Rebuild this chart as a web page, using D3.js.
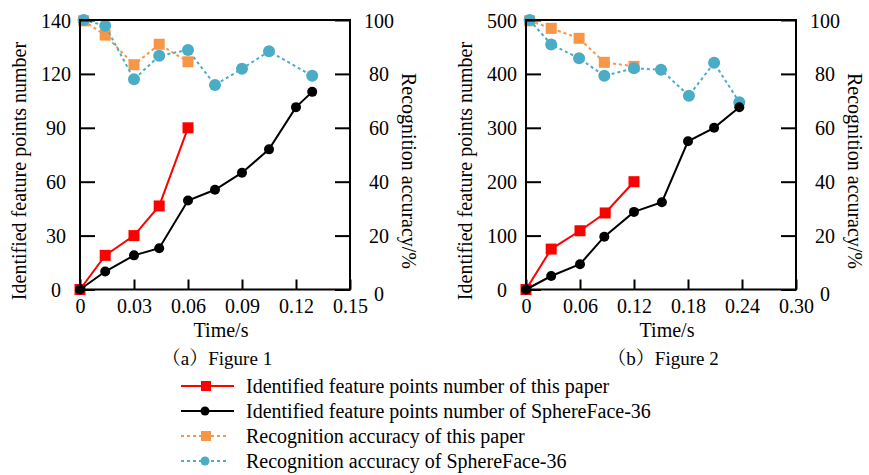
<!DOCTYPE html>
<html>
<head>
<meta charset="utf-8">
<script src="https://cdn.jsdelivr.net/npm/d3@7"></script>
<style>
  body { margin: 0; background: #fff; }
</style>
</head>
<body>
<div id="chart"></div>
<script>
// DATA - panel (a)
var timeOwnA = [0, 0.014, 0.03, 0.044, 0.06];
var countOwnA = [0, 19, 30, 46.5, 90];
var timeSphereA = [0, 0.014, 0.03, 0.044, 0.06, 0.075, 0.09, 0.105, 0.12, 0.129];
var countSphereA = [0, 10, 19, 23, 49.5, 55.5, 65, 78, 101.5, 110];
var accTimeOwnA = [0.002, 0.014, 0.03, 0.044, 0.06];
var accOwnA = [99.7, 94.4, 83.4, 91, 84.5];
var accTimeSphereA = [0.002, 0.014, 0.03, 0.044, 0.06, 0.075, 0.09, 0.105, 0.129];
var accSphereA = [100, 97.9, 78, 86.7, 88.9, 75.9, 81.9, 88.4, 79.3];

// DATA - panel (b)
var timeOwnB = [0, 0.028, 0.06, 0.088, 0.12];
var countOwnB = [0, 75, 109, 142, 200];
var timeSphereB = [0, 0.028, 0.06, 0.087, 0.12, 0.151, 0.18, 0.209, 0.237];
var countSphereB = [0, 25, 47, 98, 144, 162, 275, 300, 338];
var accTimeOwnB = [0.004, 0.028, 0.059, 0.087, 0.12];
var accOwnB = [99.7, 96.9, 93.2, 84.3, 82.8];
var accTimeSphereB = [0.004, 0.028, 0.059, 0.087, 0.12, 0.15, 0.181, 0.209, 0.237];
var accSphereB = [100, 90.9, 85.8, 79.3, 82.1, 81.5, 71.9, 84.1, 69.5];

// TICKS (panel (a) tops out at 150 but the original labels it 140)
var xTicksA = [0, 0.03, 0.06, 0.09, 0.12, 0.15];
var xLabelsA = ["0", "0.03", "0.06", "0.09", "0.12", "0.15"];
var yTicksA = [0, 30, 60, 90, 120, 150];
var yLabelsA = ["0", "30", "60", "90", "120", "140"];
var xTicksB = [0, 0.06, 0.12, 0.18, 0.24, 0.30];
var xLabelsB = ["0", "0.06", "0.12", "0.18", "0.24", "0.30"];
var yTicksB = [0, 100, 200, 300, 400, 500];
var yLabelsB = ["0", "100", "200", "300", "400", "500"];
var accTicks = [0, 20, 40, 60, 80, 100];

var legendLabels = [
  "Identified feature points number of this paper",
  "Identified feature points number of SphereFace-36",
  "Recognition accuracy of this paper",
  "Recognition accuracy of SphereFace-36"
];

var RED = "#ff0000", BLACK = "#000000", ORANGE = "#f79646", BLUE = "#4bacc6";
var FONT = "'Liberation Serif', 'Times New Roman', 'Noto Serif CJK SC', serif";

var svg = d3.select("#chart").append("svg")
  .attr("width", 869)
  .attr("height", 475);

function label(g, txt, size) {
  return g.append("text").style("font-family", FONT).style("font-size", size + "px")
    .attr("fill", "#000").text(txt);
}

function drawPanel(opt) {
  var left = opt.left, right = opt.left + 270, top = 20, bottom = 289.5;
  var x = d3.scaleLinear().domain(opt.xDomain).range([left, right]);
  var y = d3.scaleLinear().domain(opt.yDomain).range([bottom, top]);
  var yAcc = d3.scaleLinear().domain([0, 100]).range([bottom, top]);
  var g = svg.append("g");

  // series: accuracy first, counts on top
  function series(xs, ys, yScale, color, dashed, marker, r) {
    var pts = xs.map(function (d, i) { return [x(d), yScale(ys[i])]; });
    g.append("path")
      .attr("d", d3.line()(pts))
      .attr("fill", "none")
      .attr("stroke", color)
      .attr("stroke-width", 2)
      .attr("stroke-dasharray", dashed ? "3,3" : null);
    pts.forEach(function (p) {
      if (marker === "square") {
        g.append("rect").attr("x", p[0] - r).attr("y", p[1] - r)
          .attr("width", 2 * r).attr("height", 2 * r).attr("fill", color);
      } else {
        g.append("circle").attr("cx", p[0]).attr("cy", p[1]).attr("r", r).attr("fill", color);
      }
    });
  }
  series(opt.accTimeOwn, opt.accOwn, yAcc, ORANGE, true, "square", 5.5);
  series(opt.accTimeSphere, opt.accSphere, yAcc, BLUE, true, "circle", 6);
  series(opt.timeOwn, opt.countOwn, y, RED, false, "square", 5.5);
  series(opt.timeSphere, opt.countSphere, y, BLACK, false, "circle", 5);

  // axes
  var ax = g.append("g").attr("transform", "translate(0," + bottom + ")")
    .call(d3.axisBottom(x).tickValues(opt.xTicks).tickSizeInner(-10).tickSizeOuter(0)
      .tickFormat(function (d, i) { return opt.xLabels[i]; }));
  var ay = g.append("g").attr("transform", "translate(" + left + ",0)")
    .call(d3.axisLeft(y).tickValues(opt.yTicks).tickSizeInner(-15).tickSizeOuter(0)
      .tickFormat(function (d, i) { return opt.yLabels[i]; }));
  var ar = g.append("g").attr("transform", "translate(" + right + ",0)")
    .call(d3.axisRight(yAcc).tickValues(accTicks).tickSizeInner(-15).tickSizeOuter(0));

  [ax, ay, ar].forEach(function (a) {
    a.attr("font-family", null).attr("font-size", null);
    a.select(".domain").remove();
    a.selectAll("line").attr("stroke", "#000").attr("stroke-width", 2);
    a.selectAll("text").style("font-family", FONT).style("font-size", "20px").attr("fill", "#000");
  });
  ax.selectAll("text").attr("y", 9).attr("dy", "0.71em");
  ay.selectAll("text").attr("text-anchor", "middle").attr("x", -24).attr("dy", "0.35em");
  ar.selectAll("text").attr("text-anchor", "middle").attr("x", 29).attr("dy", "0.35em");
  ar.selectAll(".tick").filter(function (d) { return d === 0; })
    .select("text").attr("dy", "0.55em");

  g.append("rect")
    .attr("x", left).attr("y", top)
    .attr("width", right - left).attr("height", bottom - top)
    .attr("fill", "none").attr("stroke", "#000").attr("stroke-width", 2);

  // titles
  label(g, "Time/s", 20).attr("x", (left + right) / 2 + 6).attr("y", 330).attr("dy", "0.35em")
    .attr("text-anchor", "middle");
  label(g, "Identified feature points number", 20)
    .attr("transform", "translate(" + (left - 61) + ",171) rotate(-90)")
    .attr("text-anchor", "middle").attr("dy", "0.35em");
  label(g, "Recognition accuracy/%", 20)
    .attr("transform", "translate(" + (right + 59) + ",171) rotate(90)")
    .attr("text-anchor", "middle").attr("dy", "0.35em");
  label(g, opt.caption, 19).attr("x", (left + right) / 2 + 2).attr("y", 358).attr("dy", "0.35em")
    .attr("text-anchor", "middle");
}

drawPanel({
  left: 80, xDomain: [0, 0.15], yDomain: [0, 150],
  xTicks: xTicksA, xLabels: xLabelsA, yTicks: yTicksA, yLabels: yLabelsA,
  timeOwn: timeOwnA, countOwn: countOwnA, timeSphere: timeSphereA, countSphere: countSphereA,
  accTimeOwn: accTimeOwnA, accOwn: accOwnA, accTimeSphere: accTimeSphereA, accSphere: accSphereA,
  caption: "（a）Figure 1"
});
drawPanel({
  left: 526, xDomain: [0, 0.30], yDomain: [0, 500],
  xTicks: xTicksB, xLabels: xLabelsB, yTicks: yTicksB, yLabels: yLabelsB,
  timeOwn: timeOwnB, countOwn: countOwnB, timeSphere: timeSphereB, countSphere: countSphereB,
  accTimeOwn: accTimeOwnB, accOwn: accOwnB, accTimeSphere: accTimeSphereB, accSphere: accSphereB,
  caption: "（b）Figure 2"
});

// LEGEND
var legendStyles = [
  { color: RED, dashed: false, marker: "square", x2: 234 },
  { color: BLACK, dashed: false, marker: "circle", x2: 234 },
  { color: ORANGE, dashed: true, marker: "square", x2: 228 },
  { color: BLUE, dashed: true, marker: "circle", x2: 228 }
];
var legendY = d3.scalePoint().domain(d3.range(legendLabels.length)).range([386, 461]);
var legend = svg.append("g");
legendLabels.forEach(function (txt, i) {
  var s = legendStyles[i], ly = legendY(i);
  legend.append("line").attr("x1", 181).attr("x2", s.x2).attr("y1", ly).attr("y2", ly)
    .attr("stroke", s.color).attr("stroke-width", 2)
    .attr("stroke-dasharray", s.dashed ? "3,3" : null);
  if (s.marker === "square") {
    legend.append("rect").attr("x", 201).attr("y", ly - 5).attr("width", 10).attr("height", 10)
      .attr("fill", s.color);
  } else {
    legend.append("circle").attr("cx", 205).attr("cy", ly).attr("r", 4.5).attr("fill", s.color);
  }
  label(legend, txt, 20).attr("x", 246).attr("y", ly).attr("dy", "0.35em");
});
</script>
</body>
</html>
